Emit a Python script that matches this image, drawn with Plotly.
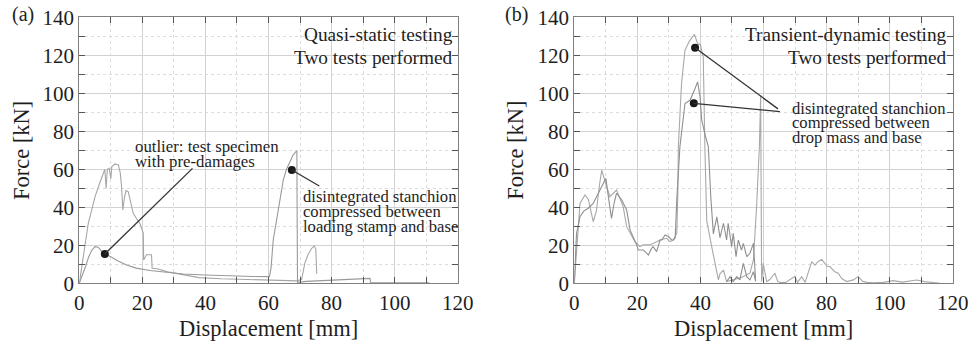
import plotly.graph_objects as go

# ---------------- (a) quasi-static tests ----------------
qs_predamaged_x = [0, 1, 2, 3, 4, 5, 6, 7, 8.1, 10, 12, 15, 18, 22.4, 27, 33, 40, 47, 55, 60.3,
                   60.8, 61.5, 62.3, 63.1, 64.0, 64.7, 65.7, 66.8, 67.8, 68.7, 69.0, 69.1, 69.2,
                   72, 80, 86, 91, 92.2, 92.4, 100, 111]
qs_predamaged_y = [0, 4, 9, 14, 17.5, 19.3, 19, 17, 15.4, 14, 12, 9.6, 8, 6.7, 5.9, 4.9, 4.4, 3.9, 3.6, 3.5,
                   8, 22.8, 31, 38.6, 47, 54.4, 60, 64, 67.5, 69.3, 69.5, 30, 0.5,
                   1, 1.75, 2.1, 2.6, 2.6, 0.3, 0.3, 0.3]

qs_intact_x = [0, 1.0, 2.0, 2.85, 4.0, 5.0, 6.3, 7.6, 8.1, 8.5, 8.9, 9.5, 9.8, 10.0, 10.3, 11.3, 12.4,
               13.0, 13.4, 13.8, 14.3, 14.8, 15.5, 16.5, 17.1, 18.2, 19.2, 20.3, 20.4, 21.3, 22.9, 23.1,
               25, 28, 33, 38, 45, 50, 60, 69, 70.5, 71.5, 72.5, 73.7, 74.5, 75.0, 75.3]
qs_intact_y = [0, 12, 22, 31.6, 39, 45.6, 52, 58.7, 60, 50, 60, 60.5, 58, 55, 61.4, 62.8, 62.3,
               58, 50.9, 38.6, 45, 48.8, 48.2, 40, 36.8, 34, 31.6, 26.3, 12.3, 15, 15, 7.9,
               7.5, 6, 4.5, 3, 2.4, 2.1, 1.7, 1.3, 2, 10.5, 15, 18.4, 19.6, 18, 5]

# ---------------- (b) transient-dynamic tests ----------------
td_test1_x = [0, 0.8, 1.8, 3.4, 4.5, 6.0, 7.0, 8.0, 8.7, 9.5, 11.3, 13.4, 15.5, 16.6, 19.2, 20.8, 21.9,
              24, 25, 27.2, 29.3, 30.3, 31.4, 32.5, 32.8, 33.0, 34.0, 35.1, 36.5, 38.1, 39.3, 39.6,
              40.0, 40.9, 41.4, 42.0, 43.6, 45.7, 46.2, 47.3, 48.3, 50.4, 53.0, 55.7, 56.8, 57.8,
              58.7, 59.1, 59.3, 59.4, 59.9, 61.0, 62.0, 63.6, 64.5, 65.2, 67, 69.9, 70.8, 72.1, 73.2,
              74.7, 75.3, 76.3, 77.3, 78.5, 79.5, 80.1, 81.0, 82.6, 83.7, 84.8, 86.4, 88.5, 90.0,
              91.5, 92.8, 95, 98, 101.1, 104, 106, 108.6, 111, 113, 116]
td_test1_y = [0, 20, 42, 46.5, 44, 32.4, 38, 52, 59.6, 55, 45.6, 49.1, 40.4, 29.8, 21.9, 19.3, 20.2,
              20.2, 21, 22.8, 23.7, 21.9, 22.8, 26.3, 45, 72, 105, 122.7, 127.5, 131, 125.3, 126,
              125.5, 119, 72, 33, 19, 1.8, 5, 7, 0.9, 1.8, 3, 5.3, 12.3, 40,
              72, 99, 50, 1, 10.5, 0.9, 2, 5.3, 1, 0.4, 0.5, 3.5, 0.5, 3.5, 0.5,
              8.8, 11.4, 9.5, 11.5, 12.6, 10.5, 9, 8.8, 6.1, 5.3, 2.5, 0.9, 1.8, 3.5,
              1, 0.5, 0.3, 0.5, 1.4, 0.6, 1, 1.75, 0.9, 0.5, 0]

td_test2_x = [0, 0.7, 1.8, 3.0, 4.4, 6.0, 8.1, 10.0, 10.8, 11.8, 12.6, 13.4, 15.0, 16.6, 17.7, 18.7,
              19.8, 20.3, 21.9, 23.0, 23.5, 24.5, 25.0, 26.1, 27.2, 27.7, 28.8, 29.8, 30.9, 31.4,
              32.0, 32.5, 33.5, 35.1, 36.7, 38.3, 39.1, 39.9, 40.4, 41.5, 42.5, 43.3, 44.1, 45.2,
              46.2, 47.3, 48.3, 48.8, 49.9, 50.4, 51.3, 52.0, 53.0, 53.6, 54.7, 55.7, 56.8, 57.2,
              57.5, 56.8, 55.7, 54.7, 53.6, 52.5, 51.5, 50.4, 49.4, 48.3]
td_test2_y = [0, 26, 35, 38, 39.5, 42, 49, 55.2, 45.6, 34.2, 42, 47.4, 44, 38.6, 28, 24.6,
              20.2, 17.5, 17.5, 15.8, 14.9, 18.4, 19.3, 16.7, 22.8, 22.8, 25.4, 24.6, 22.8, 22.8,
              24, 43.9, 72, 94.6, 96.3, 102.5, 106, 98, 86, 78, 72, 45, 26, 35,
              24, 31.6, 22.8, 31.6, 19.3, 26.3, 14, 22.8, 17.5, 21, 14, 15.8, 21, 10,
              1, 6.1, 1.8, 3.5, 10.5, 1.8, 3.5, 0.9, 3.5, 0.9]

# Highlighted points and where their leader lines end
qs_marker_x = [8.1, 67.4]
qs_marker_y = [15.4, 59.6]
qs_leader_end_x = [35.9, 76.1]
qs_leader_end_y = [60.5, 51.2]

td_marker_x = [38.3, 37.9]
td_marker_y = [124.0, 94.7]
td_leader_end_x = [64.6, 65.2]
td_leader_end_y = [91.8, 90.4]

x_ticks = [0, 20, 40, 60, 80, 100, 120]
y_ticks = [0, 20, 40, 60, 80, 100, 120, 140]

SERIF = "Liberation Serif"
TXT = "#1e1e1e"
W, H = 971, 346

fig = go.Figure()

curve_style = dict(mode="lines", hoverinfo="skip", showlegend=False)
fig.add_trace(go.Scatter(x=qs_intact_x, y=qs_intact_y, line=dict(color="#a6a6a6", width=1.1),
                         xaxis="x", yaxis="y", **curve_style))
fig.add_trace(go.Scatter(x=qs_predamaged_x, y=qs_predamaged_y, line=dict(color="#999999", width=1.1),
                         xaxis="x", yaxis="y", **curve_style))
fig.add_trace(go.Scatter(x=td_test1_x, y=td_test1_y, line=dict(color="#a8a8a8", width=1.1),
                         xaxis="x2", yaxis="y2", **curve_style))
fig.add_trace(go.Scatter(x=td_test2_x, y=td_test2_y, line=dict(color="#8f8f8f", width=1.1),
                         xaxis="x2", yaxis="y2", **curve_style))

# leader lines
for xs, ys, xe, ye, xr, yr in [(qs_marker_x, qs_marker_y, qs_leader_end_x, qs_leader_end_y, "x", "y"),
                               (td_marker_x, td_marker_y, td_leader_end_x, td_leader_end_y, "x2", "y2")]:
    for i in range(len(xs)):
        fig.add_shape(type="line", x0=xs[i], y0=ys[i], x1=xe[i], y1=ye[i], xref=xr, yref=yr,
                      line=dict(color="#333333", width=1.3))

fig.add_trace(go.Scatter(x=qs_marker_x, y=qs_marker_y, mode="markers", xaxis="x", yaxis="y",
                         marker=dict(color="#1a1a1a", size=8), hoverinfo="skip", showlegend=False))
fig.add_trace(go.Scatter(x=td_marker_x, y=td_marker_y, mode="markers", xaxis="x2", yaxis="y2",
                         marker=dict(color="#1a1a1a", size=8), hoverinfo="skip", showlegend=False))

axis_common = dict(
    showline=True, linecolor="#808080", linewidth=1, mirror="allticks",
    ticks="inside", ticklen=6, tickcolor="#555555", tickwidth=1,
    showgrid=True, gridcolor="#d2d2d2", gridwidth=1, zeroline=False, automargin=False,
    tickfont=dict(family=SERIF, size=21, color=TXT),
    minor=dict(ticks="inside", ticklen=6, tickcolor="#555555", showgrid=True,
               gridcolor="#dcdcdc", griddash="dot", gridwidth=1),
)

ybot, ytop = 1 - 283.3 / H, 1 - 17.3 / H
xa = [79.3 / W, 457.7 / W]
xb = [574.3 / W, 952.7 / W]

fig.update_layout(
    width=W, height=H, margin=dict(l=0, r=0, t=0, b=0),
    paper_bgcolor="white", plot_bgcolor="white",
    font=dict(family=SERIF),
    xaxis=dict(domain=xa, anchor="y", range=[0, 120], tickvals=x_ticks, **axis_common),
    yaxis=dict(domain=[ybot, ytop], anchor="x", range=[0, 140], tickvals=y_ticks, **axis_common),
    xaxis2=dict(domain=xb, anchor="y2", range=[0, 120], tickvals=x_ticks, **axis_common),
    yaxis2=dict(domain=[ybot, ytop], anchor="x2", range=[0, 140], tickvals=y_ticks, **axis_common),
)
for ax in ["xaxis", "xaxis2", "yaxis", "yaxis2"]:
    fig.layout[ax].minor.dtick = 10


def note(text, x, y, xref, yref, size, xanchor="left", angle=0, xshift=0):
    fig.add_annotation(text=text, x=x, y=y, xref=xref, yref=yref, showarrow=False,
                       xanchor=xanchor, yanchor="middle", textangle=angle, xshift=xshift,
                       font=dict(family=SERIF, size=size, color=TXT))


# axis titles
for x0, x1, ytitle_px in [(xa[0], xa[1], 21.7), (xb[0], xb[1], 515.5)]:
    note("Displacement [mm]", (x0 + x1) / 2, 1 - 328 / H, "paper", "paper", 22.5, "center")
    note("Force [kN]", ytitle_px / W, (ybot + ytop) / 2, "paper", "paper", 22.5, "center", -90)

# panel letters
note("(a)", 10 / W, 1 - 15 / H, "paper", "paper", 20)
note("(b)", 503 / W, 1 - 15 / H, "paper", "paper", 20)

# panel headings
note("Quasi-static testing", 118.1, 130.9, "x", "y", 19.3, "right", xshift=3)
note("Two tests performed", 118.1, 118.9, "x", "y", 19.3, "right", xshift=3)
note("Transient-dynamic testing", 117.9, 130.9, "x2", "y2", 19.3, "right", xshift=3)
note("Two tests performed", 117.9, 118.9, "x2", "y2", 19.3, "right", xshift=3)

# callouts (a)
for i, line in enumerate(["outlier: test specimen", "with pre-damages"]):
    note(line, 17.1, 71.9 - 7.6 * i, "x", "y", 16.8)
for i, line in enumerate(["disintegrated stanchion", "compressed between", "loading stamp and base"]):
    note(line, 70.3, 45.6 - 7.9 * i, "x", "y", 16.6)

# callouts (b)
for i, line in enumerate(["disintegrated stanchion", "compressed between", "drop mass and base"]):
    note(line, 68.4, 92.1 - 7.7 * i, "x2", "y2", 16.6)

fig.write_html("out.html")
